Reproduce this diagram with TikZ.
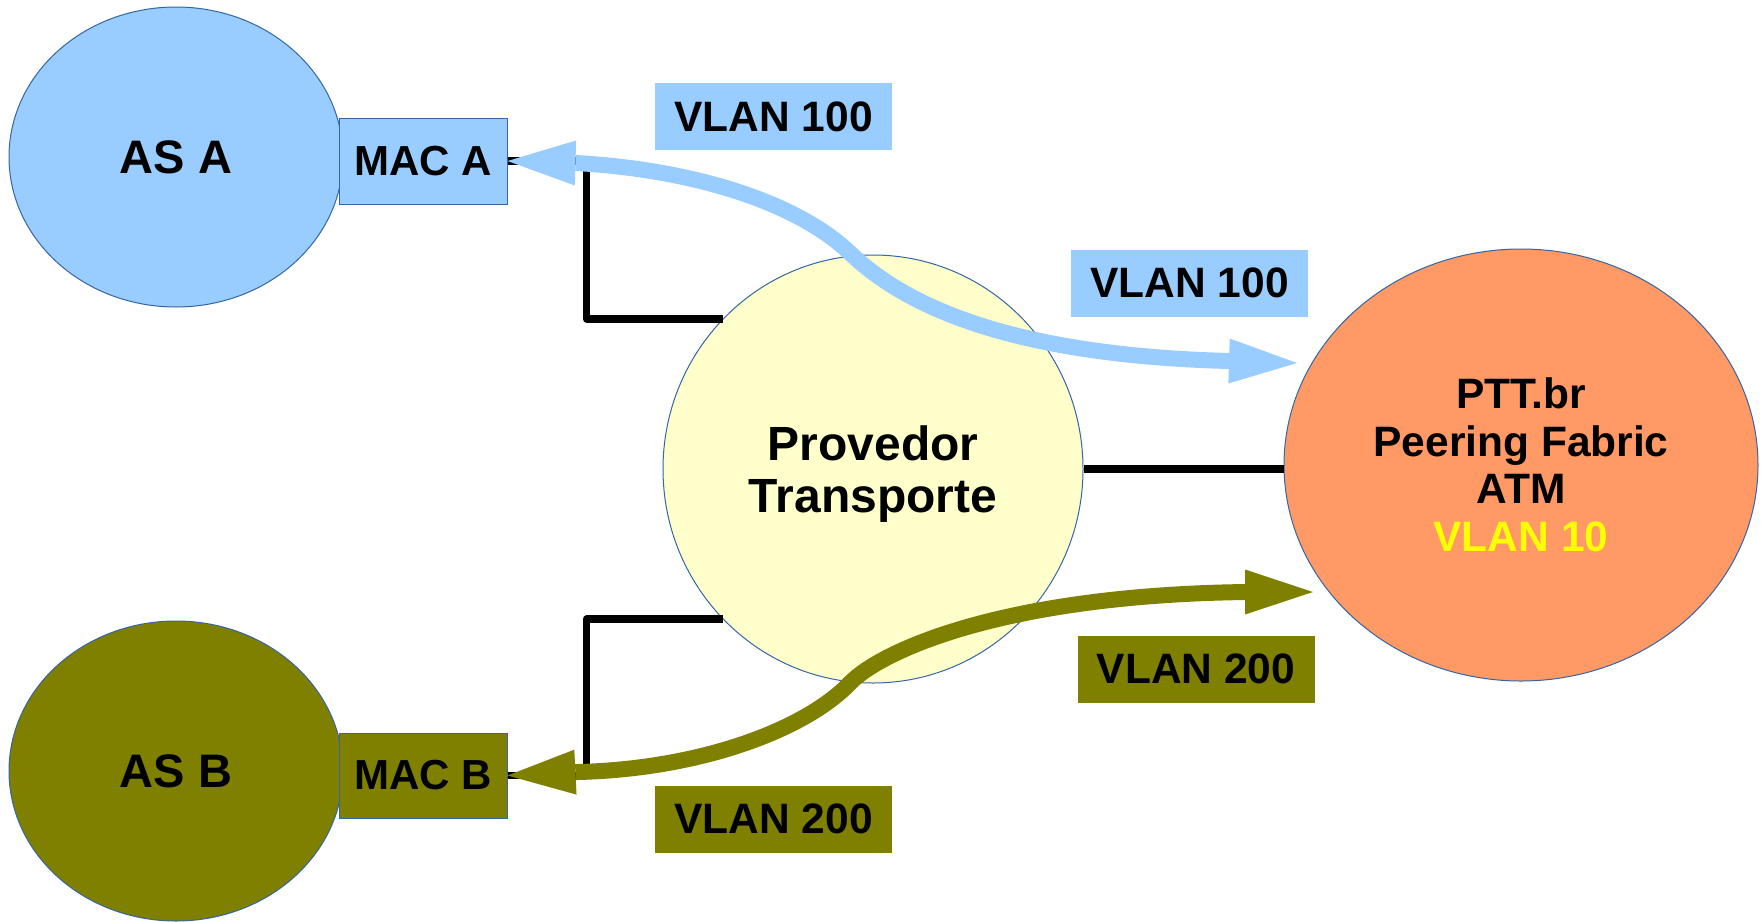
\documentclass[tikz,border=0pt]{standalone}
\usepackage{fontspec}
\setmainfont{Liberation Sans}
\usetikzlibrary{shapes.geometric,arrows.meta}
\definecolor{skyb}{HTML}{99CCFF}
\definecolor{oliv}{HTML}{808000}
\definecolor{cream}{HTML}{FFFFCC}
\definecolor{salmon}{HTML}{FF9966}
\definecolor{edgeblue}{HTML}{3465A4}
\definecolor{yel}{HTML}{FFFF00}
\begin{document}
\begin{tikzpicture}[x=1pt,y=-1pt,
  blob/.style={ellipse, draw=edgeblue, line width=1pt, inner sep=0pt},
  macbox/.style={rectangle, draw=edgeblue, line width=1pt, minimum width=168pt, minimum height=86pt, inner sep=0pt, font=\bfseries\fontsize{42}{50}\selectfont},
  tag/.style={rectangle, minimum width=237pt, minimum height=67pt, inner sep=0pt, font=\bfseries\fontsize{42.5}{50}\selectfont},
  link/.style={line width=7.5pt, line join=round, black},
  flow/.style={line width=16pt, {Triangle[length=68pt,width=45pt,line width=0pt]}-{Triangle[length=68pt,width=45pt,line width=0pt]}}
]
\useasboundingbox (0,0) rectangle (1763,921);

% left side
\node[blob, fill=skyb, minimum width=334pt, minimum height=300pt, font=\bfseries\fontsize{47}{56}\selectfont] (ASA) at (176,157) {AS A};
\node[macbox, fill=skyb] (MACA) at (423,161) {MAC A};
\node[blob, fill=oliv, minimum width=334pt, minimum height=300pt, font=\bfseries\fontsize{47}{56}\selectfont] (ASB) at (176,771) {AS B};
\node[macbox, fill=oliv, minimum height=85pt] (MACB) at (423,775.5) {MAC B};

% centre and right
\node[blob, fill=cream, minimum width=420pt, minimum height=428pt,
  label={[font=\bfseries\fontsize{48}{52}\selectfont, align=center, yshift=-5pt]center:Provedor\\Transporte}] (P) at (873,469) {};
\node[blob, fill=salmon, minimum width=474pt, minimum height=432pt, align=center,
  font=\bfseries\fontsize{42.5}{47.5}\selectfont] (T) at (1521,465) {PTT.br\\Peering Fabric\\ATM\\\textcolor{yel}{VLAN 10}};

% labels
\node[tag, fill=skyb] (L1) at (773.5,116.5) {VLAN 100};
\node[tag, fill=skyb] (L2) at (1189.5,283) {VLAN 100};
\node[tag, fill=oliv] (L3) at (1196,669) {VLAN 200};
\node[tag, fill=oliv] (L4) at (773.5,819) {VLAN 200};

% black links
\draw[link] (MACA.east) -- ++(79,0) |- (P.135);
\draw[link] (MACB.east) -- ++(79,0) |- (P.225);
\draw[link] (P.east) -- (P.east -| T.west);

% VLAN flows
\coordinate (bluetip) at (1297,363);
\coordinate (olivetip) at (1313,592);
\draw[flow, skyb] (MACA.east) -- (576,163) .. controls (700,170) and (800,205) .. (850,253)
  .. controls (900,301) and (1000,355) .. (1229,361) -- (bluetip);
\draw[flow, oliv] (MACB.east) -- (578,772) .. controls (700,769) and (805,730) .. (850,683)
  .. controls (880,652) and (1000,595) .. (1247,592) -- (olivetip);
\end{tikzpicture}
\end{document}
